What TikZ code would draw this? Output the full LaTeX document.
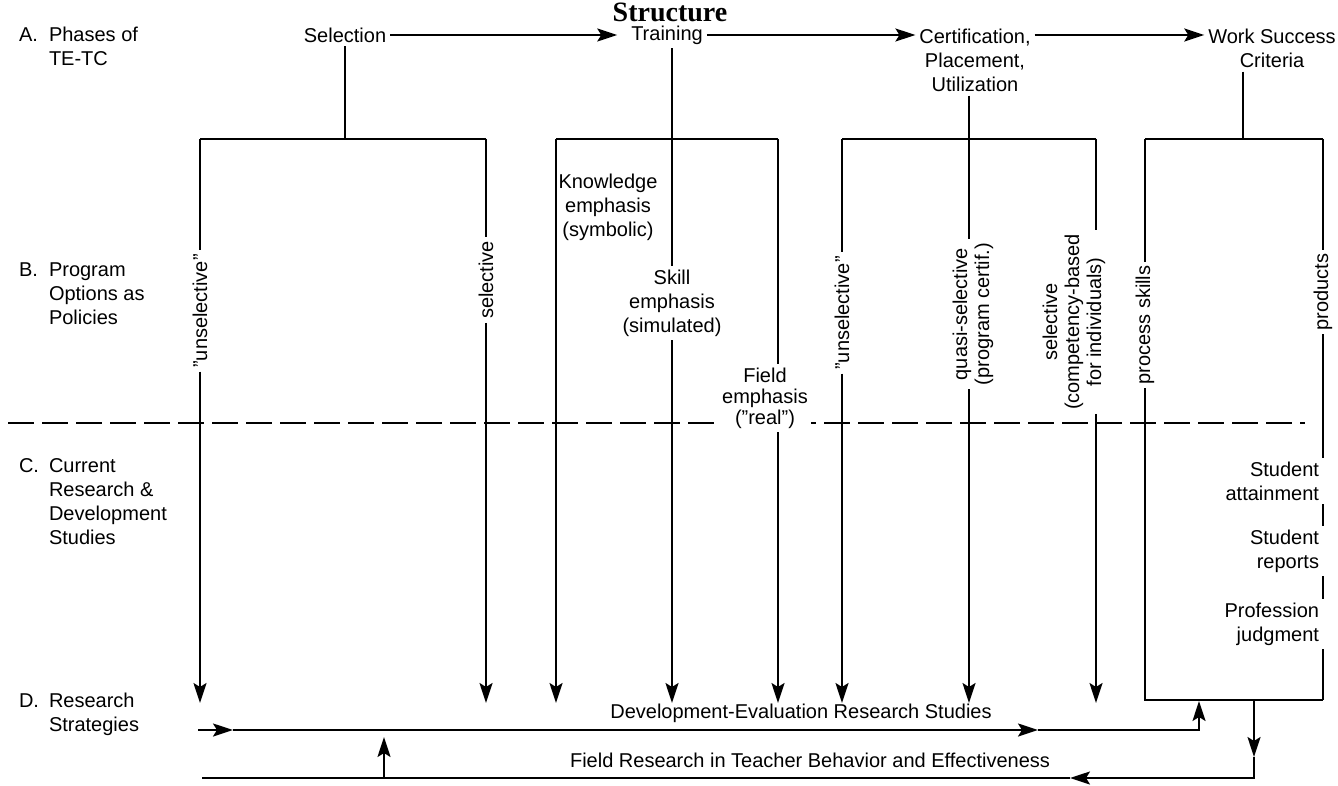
\documentclass[tikz,border=0pt]{standalone}
\usepackage{fontspec}
\setmainfont{Liberation Sans}
\newfontfamily\titlefont{Liberation Serif}
\usetikzlibrary{arrows.meta}

\begin{document}
\begin{tikzpicture}[x=0.5pt,y=-0.5pt,line width=1pt,
    lbl/.style={font=\fontsize{10}{12}\selectfont, inner sep=1.5pt, align=center},
    side/.style={font=\fontsize{10}{12}\selectfont, anchor=base west, inner sep=0pt},
    vlbl/.style={lbl, rotate=90, font=\fontsize{10}{11}\selectfont},
    arr/.style={-{Stealth[length=10pt,width=6.5pt,inset=2pt]}},
    divider/.style={dash pattern=on 13pt off 4pt}]
    \useasboundingbox (0,0) rectangle (1338,786);

    \node[font=\titlefont\fontsize{14}{16}\selectfont\bfseries, inner sep=0pt] (title) at (670,12) {Structure};

    % row labels
    \node[side] (rowA) at (18,42) {\begin{tabular}[t]{@{}p{15pt}@{}l@{}}A. & Phases of\\ & TE-TC\end{tabular}};
    \node[side] (rowB) at (18,277) {\begin{tabular}[t]{@{}p{15pt}@{}l@{}}B. & Program\\ & Options as\\ & Policies\end{tabular}};
    \node[side] (rowC) at (18,472) {\begin{tabular}[t]{@{}p{15pt}@{}l@{}}C. & Current\\ & Research \&\\ & Development\\ & Studies\end{tabular}};
    \node[side] (rowD) at (18,707) {\begin{tabular}[t]{@{}p{15pt}@{}l@{}}D. & Research\\ & Strategies\end{tabular}};

    % phases
    \node[lbl] (sel) at (345,35) {Selection};
    \node[lbl] (train) at (667,35) {Training};
    \node[lbl, anchor=north] (cert) at (975,25) {Certification,\\Placement,\\Utilization};
    \node[lbl, anchor=north] (work) at (1272,25) {Work Success\\Criteria};

    \draw[arr, shorten >=5pt] (sel) -- (train);
    \draw[arr] (train) -- (train -| cert.west);
    \draw[arr] (cert.east |- train) -- (train -| work.west);

    \draw[divider] (8,423) -- (1305,423);

    % brackets
    \coordinate (b1l) at (200,139);
    \coordinate (b1r) at (486,139);
    \coordinate (b2l) at (556,139);
    \coordinate (b2r) at (778,139);
    \coordinate (b3l) at (842,139);
    \coordinate (b3m) at (969,139);
    \coordinate (b3r) at (1096,139);
    \coordinate (b4l) at (1145,139);
    \coordinate (b4m) at (1243,139);
    \coordinate (b4r) at (1323,139);
    \coordinate (f4l) at (1145,700);
    \coordinate (f4r) at (1323,700);

    % arrow ends
    \coordinate (e1) at (200,703);
    \coordinate (e2) at (486,703);
    \coordinate (e3) at (556,703);
    \coordinate (e4) at (672,703);
    \coordinate (e5) at (778,703);
    \coordinate (e6) at (842,703);
    \coordinate (e7) at (969,703);
    \coordinate (e8) at (1096,703);

    % options
    \node[vlbl] (uns1) at (200,311) {''unselective''};
    \node[vlbl] (sel1) at (486,280) {selective};
    \node[lbl] (know) at (608,207) {Knowledge\\emphasis\\(symbolic)};
    \node[lbl] (skill) at (672,303) {Skill\\emphasis\\(simulated)};
    \node[lbl, fill=white, font=\fontsize{10}{10.5}\selectfont] (field) at (765,398) {Field\\emphasis\\(''real'')};
    \node[vlbl] (uns3) at (842,313) {''unselective''};
    \node[vlbl] (quasi) at (973,314) {quasi-selective\\(program certif.)};
    \node[vlbl] (sel3) at (1074,322) {selective\\(competency-based\\for individuals)};
    \node[vlbl] (proc) at (1145,325) {process skills};
    \node[vlbl] (prod) at (1323,292) {products};
    \node[lbl, align=right, anchor=east] (att) at (1323,481) {Student\\attainment};
    \node[lbl, align=right, anchor=east] (rep) at (1323,551) {Student\\reports};
    \node[lbl, align=right, anchor=east] (judg) at (1323,624) {Profession\\judgment};

    \draw (sel) -- (sel |- b1l);
    \draw (b1l) -- (b1r);
    \draw (b1l) -- (uns1);
    \draw[arr] (uns1) -- (e1);
    \draw (b1r) -- (sel1);
    \draw[arr] (sel1) -- (e2);

    \draw (b2l) -- (b2r);
    \draw[arr] (b2l) -- (e3);
    \draw (train.south -| skill) -- (skill);
    \draw[arr] (skill) -- (e4);
    \draw (b2r) -- (b2r |- field.north);
    \draw[arr] (b2r |- field.south) -- (e5);

    \draw (b3l) -- (b3r);
    \draw (b3l) -- (uns3);
    \draw[arr] (uns3) -- (e6);
    \draw (b3m |- cert.south) -- (b3m |- quasi.east);
    \draw[arr] (b3m |- quasi.west) -- (e7);
    \draw (b3r) -- (b3r |- sel3.east);
    \draw[arr] (b3r |- sel3.west) -- (e8);

    \draw (b4m |- work.south) -- (b4m);
    \draw (b4l) -- (b4r);
    \draw (b4l) -- (proc);
    \draw (proc) -- (f4l) -- (f4r);
    \draw (b4r) -- (prod);
    \draw (prod) -- (b4r |- att.north);
    \draw (b4r |- att.south) -- (b4r |- rep.north);
    \draw (b4r |- rep.south) -- (b4r |- judg.north);
    \draw (b4r |- judg.south) -- (f4r);

    % research strategies
    \node[lbl] (deveval) at (801,713) {Development-Evaluation Research Studies};
    \node[lbl] (fieldres) at (810,760) {Field Research in Teacher Behavior and Effectiveness};

    \coordinate (s0) at (198,730);
    \coordinate (s1) at (233,730);
    \coordinate (s2) at (1038,730);
    \coordinate (s3) at (1199,730);
    \coordinate (s4) at (1199,701);
    \draw[arr] (s0) -- (s1);
    \draw[arr] (s1) -- (s2);
    \draw[arr] (s2) -- (s3) -- (s4);

    \coordinate (r0) at (1254,700);
    \coordinate (r1) at (1254,757);
    \coordinate (r2) at (1254,778);
    \coordinate (r3) at (1070,778);
    \coordinate (r4) at (202,778);
    \draw[arr] (r0) -- (r1);
    \draw[arr] (r1) -- (r2) -- (r3);
    \draw (r3) -- (r4);

    \coordinate (u0) at (384,778);
    \coordinate (u1) at (384,737);
    \draw[arr] (u0) -- (u1);
\end{tikzpicture}
\end{document}
